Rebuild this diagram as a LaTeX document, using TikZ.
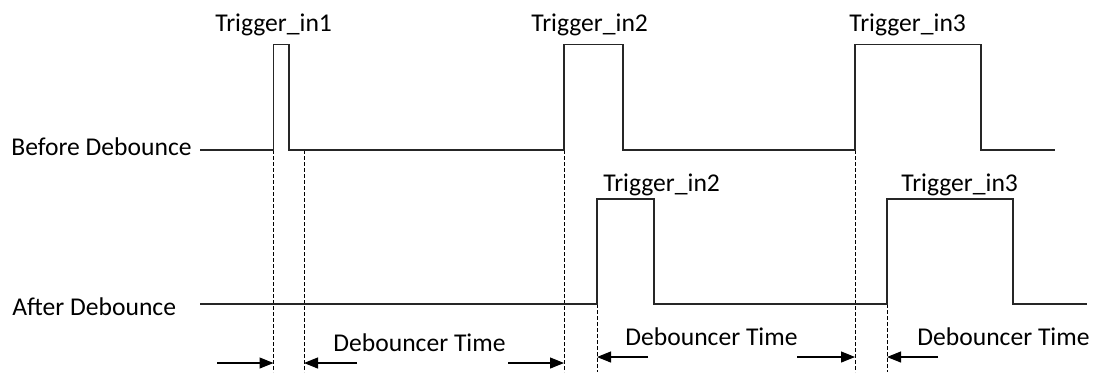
\documentclass[tikz,border=0pt]{standalone}
\usepackage{fontspec}
\setmainfont{Carlito}
\usetikzlibrary{arrows.meta}
\begin{document}
\begin{tikzpicture}[x=0.5pt,y=-0.5pt,
  sig/.style={line width=0.6pt, black!85},
  guide/.style={line width=0.5pt, dash pattern=on 2pt off 1pt},
  marker/.style={line width=0.55pt, -{Triangle[length=7pt,width=5.5pt]}},
  lbl/.style={anchor=base west, inner sep=0pt, font=\fontsize{12.8}{15}\selectfont}]
\useasboundingbox (0,0) rectangle (1097,372);
% labels
\node[lbl] (bd) at (11,155) {Before Debounce};
\node[lbl] (ad) at (12,315) {After Debounce};
\node[lbl] (t1) at (215,31) {Trigger\_in1};
\node[lbl] (t2) at (531,31) {Trigger\_in2};
\node[lbl] (t3) at (849,31) {Trigger\_in3};
\node[lbl] (t2b) at (603,191) {Trigger\_in2};
\node[lbl] (t3b) at (901,191) {Trigger\_in3};
\node[lbl] (dt1) at (333,351) {Debouncer Time};
\node[lbl] (dt2) at (625,345) {Debouncer Time};
\node[lbl] (dt3) at (917,345) {Debouncer Time};
% guide coordinates
\coordinate (g1a) at (273.5,150); \coordinate (g1b) at (273.5,372);
\coordinate (g2a) at (304,150);   \coordinate (g2b) at (304,372);
\coordinate (g3a) at (564,150);   \coordinate (g3b) at (564,372);
\coordinate (g4a) at (597,304);   \coordinate (g4b) at (597,372);
\coordinate (g5a) at (855,150);   \coordinate (g5b) at (855,372);
\coordinate (g6a) at (887,304);   \coordinate (g6b) at (887,372);
\foreach \g in {1,...,6} \draw[guide] (g\g a) -- (g\g b);
% signals
\draw[sig] (200,150) -- (273.5,150) -- (273.5,44.5) -- (289,44.5) -- (289,150)
  -- (564,150) -- (564,44.5) -- (623,44.5) -- (623,150)
  -- (855,150) -- (855,44.5) -- (981,44.5) -- (981,150) -- (1055,150);
\draw[sig] (200,304) -- (597,304) -- (597,199) -- (654,199) -- (654,304)
  -- (887,304) -- (887,199) -- (1013,199) -- (1013,304) -- (1087,304);
% arrows
\coordinate (a1s) at (217,363); \coordinate (a1e) at (273.5,363);
\coordinate (a2s) at (357,363); \coordinate (a2e) at (304,363);
\coordinate (a3s) at (508,363); \coordinate (a3e) at (564,363);
\coordinate (a4s) at (648,357); \coordinate (a4e) at (597,357);
\coordinate (a5s) at (797,357); \coordinate (a5e) at (855,357);
\coordinate (a6s) at (938,357); \coordinate (a6e) at (887,357);
\foreach \a in {1,...,6} \draw[marker] (a\a s) -- (a\a e);
\end{tikzpicture}
\end{document}
